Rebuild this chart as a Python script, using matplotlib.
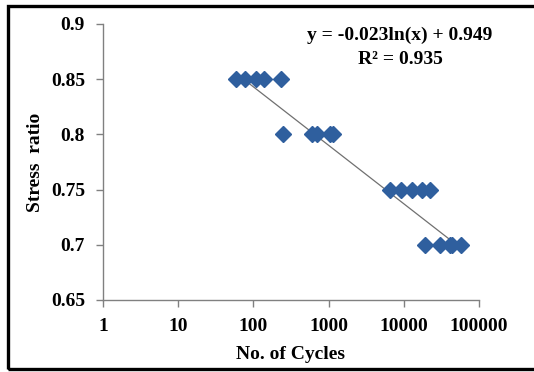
import numpy as np
import matplotlib
matplotlib.use("Agg")
import matplotlib.pyplot as plt
from matplotlib.patches import Rectangle

# Data
cycles_085 = [59, 77, 108, 140, 233]
cycles_080 = [245, 606, 707, 1042, 1130]
cycles_075 = [6516, 9310, 12900, 17700, 22100]
cycles_070 = [19400, 30700, 40800, 43800, 57100]
stress_levels = [0.85, 0.80, 0.75, 0.70]

# Trend line coefficients (shown on chart)
slope = -0.023
intercept = 0.949
r2 = 0.935

x_ticks = [1, 10, 100, 1000, 10000, 100000]
x_ticklabels = ["1", "10", "100", "1000", "10000", "100000"]
y_ticks = [0.65, 0.7, 0.75, 0.8, 0.85, 0.9]
y_ticklabels = ["0.65", "0.7", "0.75", "0.8", "0.85", "0.9"]

x_all = []
y_all = []
for s, c in zip(stress_levels, [cycles_085, cycles_080, cycles_075, cycles_070]):
    x_all += c
    y_all += [s] * len(c)
x_all = np.array(x_all, dtype=float)
y_all = np.array(y_all)

plt.rcParams['font.family'] = ['Liberation Serif', 'DejaVu Serif']
plt.rcParams['font.weight'] = 'bold'

fig = plt.figure(figsize=(5.34, 3.72), dpi=100)
W, H = 534, 372
ax = fig.add_axes([103 / W, 1 - 300 / H, (479 - 103) / W, (300 - 24) / H])

ax.set_xscale('log')
ax.set_xlim(1, 100000)
ax.set_ylim(0.65, 0.9)

xt = np.array([x_all.min(), x_all.max()])
ax.plot(xt, slope * np.log(xt) + intercept, color='#707070', lw=0.9, zorder=2)

ax.plot(x_all, y_all, linestyle='none', marker='D', markersize=8,
        color='#2f5f9e', markeredgecolor='#2f5f9e', zorder=3)

ax.set_xticks(x_ticks)
ax.set_xticklabels(x_ticklabels)
ax.xaxis.set_minor_locator(matplotlib.ticker.NullLocator())
ax.set_yticks(y_ticks)
ax.set_yticklabels(y_ticklabels)

for sp in ['top', 'right']:
    ax.spines[sp].set_visible(False)
for sp in ['left', 'bottom']:
    ax.spines[sp].set_color('#808080')
    ax.spines[sp].set_linewidth(1.0)

ax.tick_params(axis='both', direction='out', length=5, width=1.0, color='#808080',
               labelsize=14, pad=8)
for lab in ax.get_xticklabels() + ax.get_yticklabels():
    lab.set_fontweight('bold')

ax.set_xlabel("No. of Cycles", fontsize=14, fontweight='bold', labelpad=8)
fig.text(36 / W, 1 - 162 / H, "Stress  ratio", rotation=90, fontsize=14,
         fontweight='bold', ha='center', va='center')

fig.text(400 / W, 1 - 35 / H, f"y = {slope:.3f}ln(x) + {intercept:.3f}",
         fontsize=14, fontweight='bold', ha='center', va='center')
fig.text(400 / W, 1 - 60 / H, f"R² = {r2:.3f}",
         fontsize=14, fontweight='bold', ha='center', va='center')

# Outer frame (right edge falls outside the image)
fig.patches.append(Rectangle((7.5 / W, (H - 368.5) / H), (545 - 7.5) / W, (368.5 - 6) / H,
                             transform=fig.transFigure, fill=False,
                             edgecolor='black', linewidth=2.4))

fig.savefig("out.png", dpi=100, facecolor='white')
